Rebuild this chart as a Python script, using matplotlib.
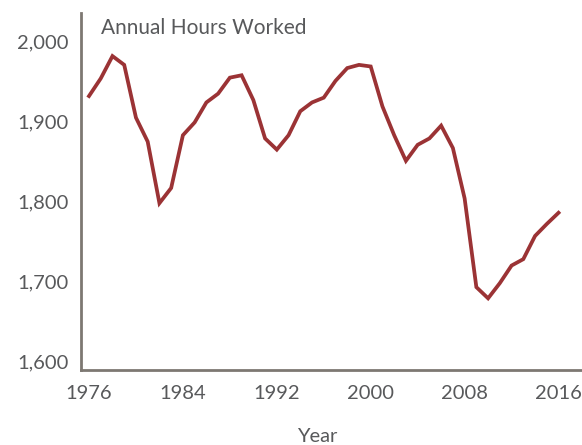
import matplotlib
matplotlib.use("Agg")
import matplotlib.pyplot as plt
from matplotlib.ticker import FuncFormatter

# data
years = list(range(1976, 2017))
hours = [1932, 1954, 1982, 1971, 1905, 1875, 1798, 1817, 1883, 1899,
         1924, 1935, 1955, 1958, 1927, 1879, 1865, 1883, 1913, 1924,
         1930, 1951, 1967, 1971, 1969, 1919, 1883, 1851, 1871, 1879,
         1895, 1867, 1804, 1693, 1679, 1698, 1720, 1728, 1757, 1772,
         1786]
xticks = [1976, 1984, 1992, 2000, 2008, 2016]
yticks = [1600, 1700, 1800, 1900, 2000]

plt.rcParams['font.family'] = ['Lato', 'DejaVu Sans']
txt = '#58595b'
spine = '#7d7872'

fig = plt.figure(figsize=(5.82, 4.45), dpi=100)
ax = fig.add_axes([0.139, 0.169, 0.861, 0.802])

ax.plot(years, hours, color='#9b3335', lw=2.7, solid_joinstyle='miter')

ax.set_xlim(1975.31, 2018.0)
ax.set_ylim(1589.6, 2036)
ax.set_xticks(xticks)
ax.set_yticks(yticks)
ax.yaxis.set_major_formatter(FuncFormatter(lambda v, p: "{:,.0f}".format(v)))
ax.tick_params(length=0, labelsize=14.5, colors=txt)
ax.tick_params(axis='y', pad=9)
ax.tick_params(axis='x', pad=11)

for s in ['top', 'right']:
    ax.spines[s].set_visible(False)
for s in ['left', 'bottom']:
    ax.spines[s].set_color(spine)
    ax.spines[s].set_linewidth(2)

ax.text(0.04, 0.985, "Annual Hours Worked", transform=ax.transAxes,
        ha='left', va='top', fontsize=15, color=txt)
fig.text(317 / 582, 1 - 437 / 445, "Year", ha='center', va='center',
         fontsize=14.5, color=txt)

fig.savefig("out.png", dpi=100)
